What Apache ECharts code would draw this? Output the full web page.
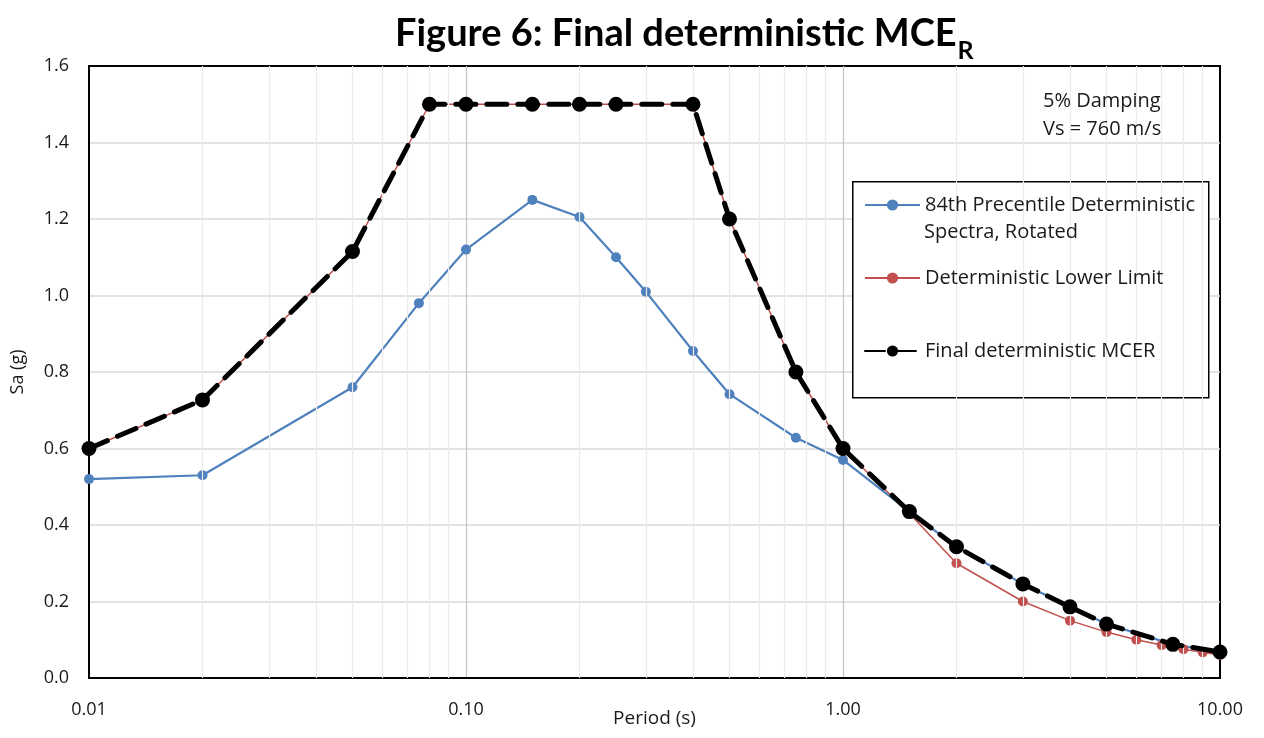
<!DOCTYPE html>
<html>
<head>
<meta charset="utf-8">
<title>Final deterministic MCER</title>
<script src="https://cdn.jsdelivr.net/npm/echarts@6/dist/echarts.min.js"></script>
<style>
  html, body { margin: 0; padding: 0; background: #fff; }
  #chart { width: 1264px; height: 738px; }
</style>
</head>
<body>
<div id="chart"></div>
<script>
// Period (s) and spectral acceleration Sa (g) for each curve
const spectraPeriods = [0.01, 0.02, 0.05, 0.075, 0.1, 0.15, 0.2, 0.25, 0.3, 0.4, 0.5, 0.75, 1, 1.5, 2, 3, 4, 5, 7.5, 10];
const spectraSa      = [0.52, 0.53, 0.76, 0.98, 1.12, 1.25, 1.205, 1.10, 1.01, 0.855, 0.742, 0.628, 0.57, 0.435, 0.343, 0.246, 0.186, 0.141, 0.088, 0.068];

const limitPeriods = [0.01, 0.02, 0.05, 0.08, 0.1, 0.15, 0.2, 0.25, 0.4, 0.5, 0.75, 1, 1.5, 2, 3, 4, 5, 6, 7, 8, 9, 10];
const limitSa      = [0.6, 0.727, 1.115, 1.5, 1.5, 1.5, 1.5, 1.5, 1.5, 1.2, 0.8, 0.6, 0.43, 0.3, 0.2, 0.15, 0.12, 0.1, 0.086, 0.075, 0.067, 0.06];

const finalPeriods = [0.01, 0.02, 0.05, 0.08, 0.1, 0.15, 0.2, 0.25, 0.4, 0.5, 0.75, 1, 1.5, 2, 3, 4, 5, 7.5, 10];
const finalSa      = [0.6, 0.727, 1.115, 1.5, 1.5, 1.5, 1.5, 1.5, 1.5, 1.2, 0.8, 0.6, 0.435, 0.343, 0.246, 0.186, 0.141, 0.088, 0.068];

// Minor gridline positions inside each decade of the log axis
const minorPeriods = [
  0.02, 0.03, 0.04, 0.05, 0.06, 0.07, 0.08, 0.09,
  0.2, 0.3, 0.4, 0.5, 0.6, 0.7, 0.8, 0.9,
  2, 3, 4, 5, 6, 7, 8, 9
];

const seriesNames = [
  '84th Precentile Deterministic Spectra, Rotated',
  'Deterministic Lower Limit',
  'Final deterministic MCER'
];
// first legend entry wraps onto a second line
const legendLabels = [
  '84th Precentile Deterministic',
  'Deterministic Lower Limit',
  'Final deterministic MCER'
];
const legendWrapLine = 'Spectra, Rotated';

const FONT = '"Open Sans", Lato, sans-serif';
const TITLE_FONT = 'Lato, "Open Sans", sans-serif';
const TEXT_COLOR = '#1a1a1a';
const pair = (xs, ys) => xs.map((x, i) => [x, ys[i]]);

const chart = echarts.init(document.getElementById('chart'), null, { renderer: 'canvas' });

const legendText = { fontFamily: FONT, fontSize: 20, color: TEXT_COLOR };
const legendCommon = {
  orient: 'vertical',
  left: 859,
  itemWidth: 55,
  itemHeight: 14,
  itemGap: 0,
  selectedMode: false,
  z: 10,
  textStyle: legendText
};

chart.setOption({
  animation: false,
  backgroundColor: '#ffffff',
  title: {
    text: '{m|Figure 6: Final deterministic MCE}{s|R}',
    left: 390,
    top: 2,
    textStyle: {
      rich: {
        m: { fontFamily: TITLE_FONT, fontWeight: 'bold', fontSize: 38, color: '#000', verticalAlign: 'bottom', lineHeight: 46 },
        s: { fontFamily: TITLE_FONT, fontWeight: 'bold', fontSize: 25, color: '#000', verticalAlign: 'bottom', lineHeight: 46, padding: [0, 0, -10, 1] }
      }
    }
  },
  grid: {
    left: 89, right: 44, top: 66, bottom: 60,
    show: true,
    borderColor: '#000',
    borderWidth: 2,
    containLabel: false,
    outerBoundsMode: 'none'
  },
  xAxis: {
    type: 'log',
    logBase: 10,
    min: 0.01,
    max: 10,
    name: 'Period (s)',
    nameLocation: 'middle',
    nameGap: 31,
    nameMoveOverlap: false,
    nameTextStyle: { fontFamily: FONT, fontSize: 19, color: TEXT_COLOR },
    axisLine: { show: true, onZero: false, lineStyle: { color: '#000', width: 2 } },
    axisTick: { show: false },
    axisLabel: {
      margin: 23,
      fontFamily: FONT, fontSize: 18, color: TEXT_COLOR,
      formatter: v => Number(v).toFixed(2)
    },
    splitLine: { show: true, showMinLine: false, showMaxLine: false, lineStyle: { color: '#c4c4c4', width: 1.2 } },
    minorTick: { show: false },
    minorSplitLine: { show: false }
  },
  yAxis: {
    type: 'value',
    min: 0,
    max: 1.6,
    interval: 0.2,
    name: 'Sa (g)',
    nameLocation: 'middle',
    nameGap: 62,
    nameRotate: 90,
    nameMoveOverlap: false,
    nameTextStyle: { fontFamily: FONT, fontSize: 18, color: TEXT_COLOR },
    axisLine: { show: true, lineStyle: { color: '#000', width: 2 } },
    axisTick: { show: false },
    axisLabel: {
      margin: 20,
      fontFamily: FONT, fontSize: 18, color: TEXT_COLOR,
      formatter: v => Number(v).toFixed(1)
    },
    splitLine: { show: true, showMinLine: false, showMaxLine: false, lineStyle: { color: '#d9d9d9', width: 1.5 } }
  },
  legend: [
    Object.assign({}, legendCommon, {
      top: 190,
      data: [seriesNames[0]],
      formatter: () => legendLabels[0]
    }),
    Object.assign({}, legendCommon, {
      top: 263,
      data: [seriesNames[1]],
      formatter: () => legendLabels[1]
    }),
    Object.assign({}, legendCommon, {
      top: 336,
      data: [seriesNames[2]],
      formatter: () => legendLabels[2]
    })
  ],
  graphic: [
    {
      type: 'rect',
      left: 852, top: 181,
      shape: { width: 356, height: 216 },
      style: { fill: '#fff', stroke: '#000', lineWidth: 1.5 },
      z: 2
    },
    {
      type: 'text',
      left: 924, top: 222,
      style: { text: legendWrapLine, fontFamily: FONT, fontSize: 20, fill: TEXT_COLOR },
      z: 20
    },
    {
      type: 'text',
      left: 1043, top: 87,
      style: {
        text: '5% Damping\nVs = 760 m/s',
        fontFamily: FONT, fontSize: 20, lineHeight: 28, fill: TEXT_COLOR
      },
      z: 20
    }
  ],
  series: [
    {
      // minor vertical gridlines at 2..9 of each decade
      type: 'line',
      data: [],
      silent: true,
      z: 0,
      markLine: {
        silent: true,
        symbol: ['none', 'none'],
        label: { show: false },
        animation: false,
        lineStyle: { color: '#ebebeb', type: 'solid', width: 1.2 },
        data: minorPeriods.map(v => ({ xAxis: v }))
      }
    },
    {
      name: seriesNames[0],
      type: 'line',
      data: pair(spectraPeriods, spectraSa),
      symbol: 'circle',
      symbolSize: 10,
      color: '#4f81bd',
      lineStyle: { color: '#4f81bd', width: 2.2 },
      itemStyle: { color: '#4f81bd' },
      z: 3
    },
    {
      name: seriesNames[1],
      type: 'line',
      data: pair(limitPeriods, limitSa),
      symbol: 'circle',
      symbolSize: 10,
      color: '#c0504d',
      lineStyle: { color: '#c0504d', width: 1.5 },
      itemStyle: { color: '#c0504d' },
      z: 4
    },
    {
      name: seriesNames[2],
      type: 'line',
      data: pair(finalPeriods, finalSa),
      symbol: 'circle',
      symbolSize: 15,
      color: '#000',
      lineStyle: { color: '#000', width: 5, type: [20, 11], cap: 'round' },
      itemStyle: { color: '#000' },
      z: 5
    }
  ]
});
</script>
</body>
</html>
